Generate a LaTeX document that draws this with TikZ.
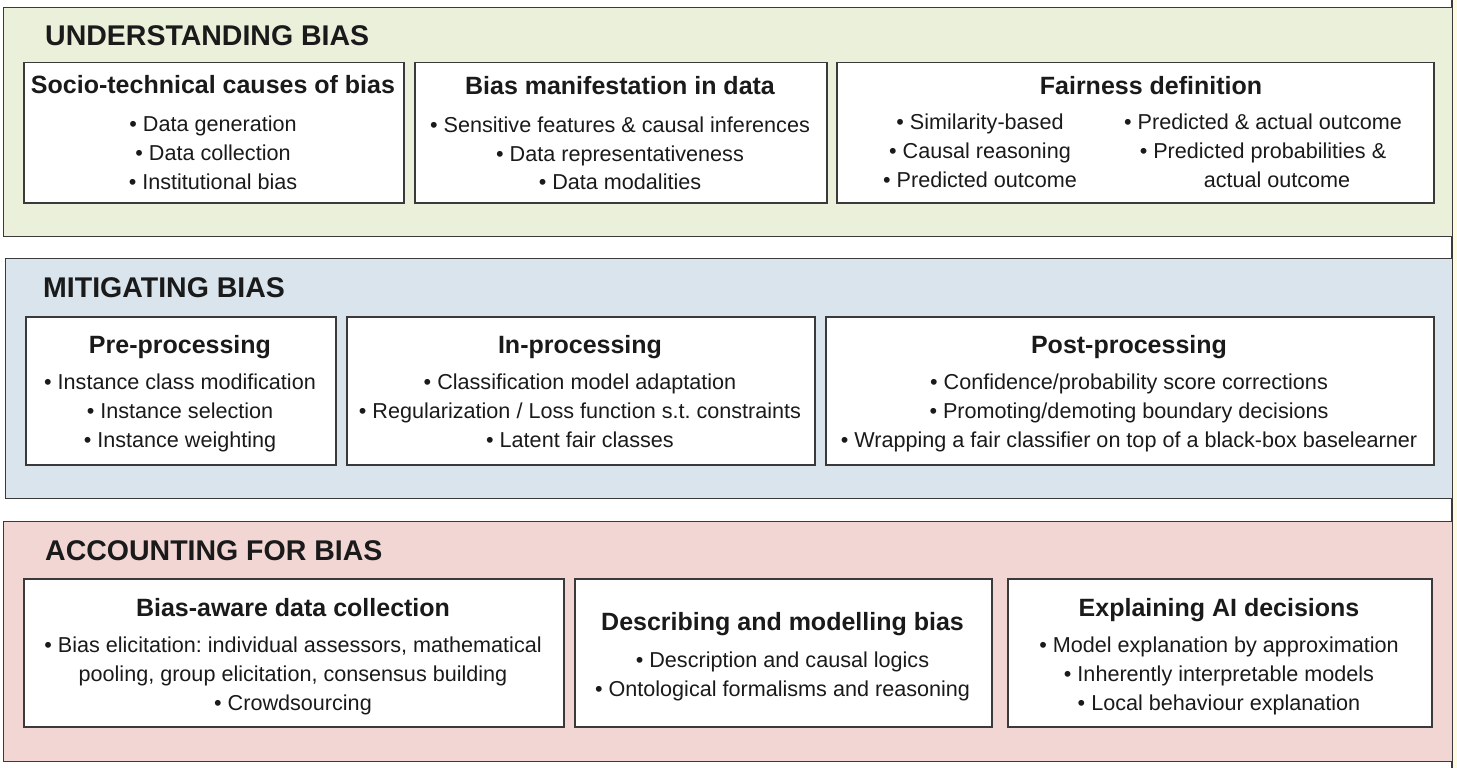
\documentclass[tikz,border=0pt]{standalone}
\usepackage{fontspec}
\setmainfont{Liberation Sans}
\frenchspacing
\definecolor{linec}{HTML}{3A3A3A}
\definecolor{txtc}{HTML}{1A1A1A}
\definecolor{greenb}{HTML}{EAF0DA}
\definecolor{blueb}{HTML}{D9E4EC}
\definecolor{pinkb}{HTML}{F2D6D4}
\definecolor{yellowb}{HTML}{FEFBE0}
\tikzset{
  band/.style={draw=linec, line width=1.4pt, rectangle, inner sep=0pt, anchor=north west},
  boxn/.style={draw=linec, fill=white, line width=1.5pt, rectangle, inner sep=0pt, anchor=north west},
  sect/.style={font=\fontsize{28.5}{34}\selectfont\bfseries, text=txtc, anchor=base west, inner sep=0pt},
  ttl/.style={font=\fontsize{25}{30}\selectfont\bfseries, text=txtc, anchor=base, inner sep=0pt},
  itm/.style={font=\fontsize{21.6}{29}\selectfont, text=txtc, anchor=base, inner sep=0pt},
}
\begin{document}
\frenchspacing
\begin{tikzpicture}[x=1pt,y=-1pt]
\useasboundingbox (0,0) rectangle (1457,768);
\fill[white] (0,0) rectangle (1457,768);
\fill[yellowb] (1452,0) rectangle (1457,768);
\draw[linec, line width=1.4pt] (1452,0) -- (1452,768);

% ---------- UNDERSTANDING BIAS ----------
\node[band, fill=greenb, minimum width=1449pt, minimum height=229pt] (bandU) at (3,7) {};
\node[sect] (tU) at (45,46) {UNDERSTANDING BIAS};

\node[boxn, minimum width=380pt, minimum height=140pt] (b11) at (23,62) {};
\node[ttl] (t11) at (213,93) {Socio-technical causes of bias};
\node[itm] (i111) at (213,131) {\textbullet\ Data generation};
\node[itm] (i112) at (213,160) {\textbullet\ Data collection};
\node[itm] (i113) at (213,189) {\textbullet\ Institutional bias};

\node[boxn, minimum width=412pt, minimum height=140pt] (b12) at (414,62) {};
\node[ttl] (t12) at (620,95) {Bias manifestation in data};
\node[itm] (i121) at (620,132) {\textbullet\ Sensitive features \& causal inferences};
\node[itm] (i122) at (620,161) {\textbullet\ Data representativeness};
\node[itm] (i123) at (620,189) {\textbullet\ Data modalities};

\node[boxn, minimum width=597pt, minimum height=140pt] (b13) at (836,62) {};
\node[ttl] (t13) at (1151,95) {Fairness definition};
\node[itm] (i131) at (980,129) {\textbullet\ Similarity-based};
\node[itm] (i132) at (980,158) {\textbullet\ Causal reasoning};
\node[itm] (i133) at (980,187) {\textbullet\ Predicted outcome};
\node[itm] (i134) at (1263,129) {\textbullet\ Predicted \& actual outcome};
\node[itm] (i135) at (1263,158) {\textbullet\ Predicted probabilities \&};
\node[itm] (i136) at (1277,187) {actual outcome};

% ---------- MITIGATING BIAS ----------
\node[band, fill=blueb, minimum width=1447pt, minimum height=240pt] (bandM) at (5,258) {};
\node[sect] (tM) at (43,297) {MITIGATING BIAS};

\node[boxn, minimum width=310pt, minimum height=148pt] (b21) at (25,316) {};
\node[ttl] (t21) at (180,353) {Pre-processing};
\node[itm] (i211) at (180,389) {\textbullet\ Instance class modification};
\node[itm] (i212) at (180,418) {\textbullet\ Instance selection};
\node[itm] (i213) at (180,447) {\textbullet\ Instance weighting};

\node[boxn, minimum width=468pt, minimum height=148pt] (b22) at (346,316) {};
\node[ttl] (t22) at (580,353) {In-processing};
\node[itm] (i221) at (580,389) {\textbullet\ Classification model adaptation};
\node[itm] (i222) at (580,418) {\textbullet\ Regularization / Loss function s.t. constraints};
\node[itm] (i223) at (580,447) {\textbullet\ Latent fair classes};

\node[boxn, minimum width=608pt, minimum height=148pt] (b23) at (825,316) {};
\node[ttl] (t23) at (1129,353) {Post-processing};
\node[itm] (i231) at (1129,389) {\textbullet\ Confidence/probability score corrections};
\node[itm] (i232) at (1129,418) {\textbullet\ Promoting/demoting boundary decisions};
\node[itm] (i233) at (1129,447) {\textbullet\ Wrapping a fair classifier on top of a black-box baselearner};

% ---------- ACCOUNTING FOR BIAS ----------
\node[band, fill=pinkb, minimum width=1449pt, minimum height=240pt] (bandA) at (3,521) {};
\node[sect] (tA) at (45,560) {ACCOUNTING FOR BIAS};

\node[boxn, minimum width=540pt, minimum height=148pt] (b31) at (23,578) {};
\node[ttl] (t31) at (293,616) {Bias-aware data collection};
\node[itm] (i311) at (293,652) {\textbullet\ Bias elicitation: individual assessors, mathematical};
\node[itm] (i312) at (293,681) {pooling, group elicitation, consensus building};
\node[itm] (i313) at (293,710) {\textbullet\ Crowdsourcing};

\node[boxn, minimum width=417pt, minimum height=148pt] (b32) at (574,578) {};
\node[ttl] (t32) at (782.5,630) {Describing and modelling bias};
\node[itm] (i321) at (782.5,667) {\textbullet\ Description and causal logics};
\node[itm] (i322) at (782.5,696) {\textbullet\ Ontological formalisms and reasoning};

\node[boxn, minimum width=424pt, minimum height=148pt] (b33) at (1007,578) {};
\node[ttl] (t33) at (1219,616) {Explaining AI decisions};
\node[itm] (i331) at (1219,652) {\textbullet\ Model explanation by approximation};
\node[itm] (i332) at (1219,681) {\textbullet\ Inherently interpretable models};
\node[itm] (i333) at (1219,710) {\textbullet\ Local behaviour explanation};
\end{tikzpicture}
\end{document}
